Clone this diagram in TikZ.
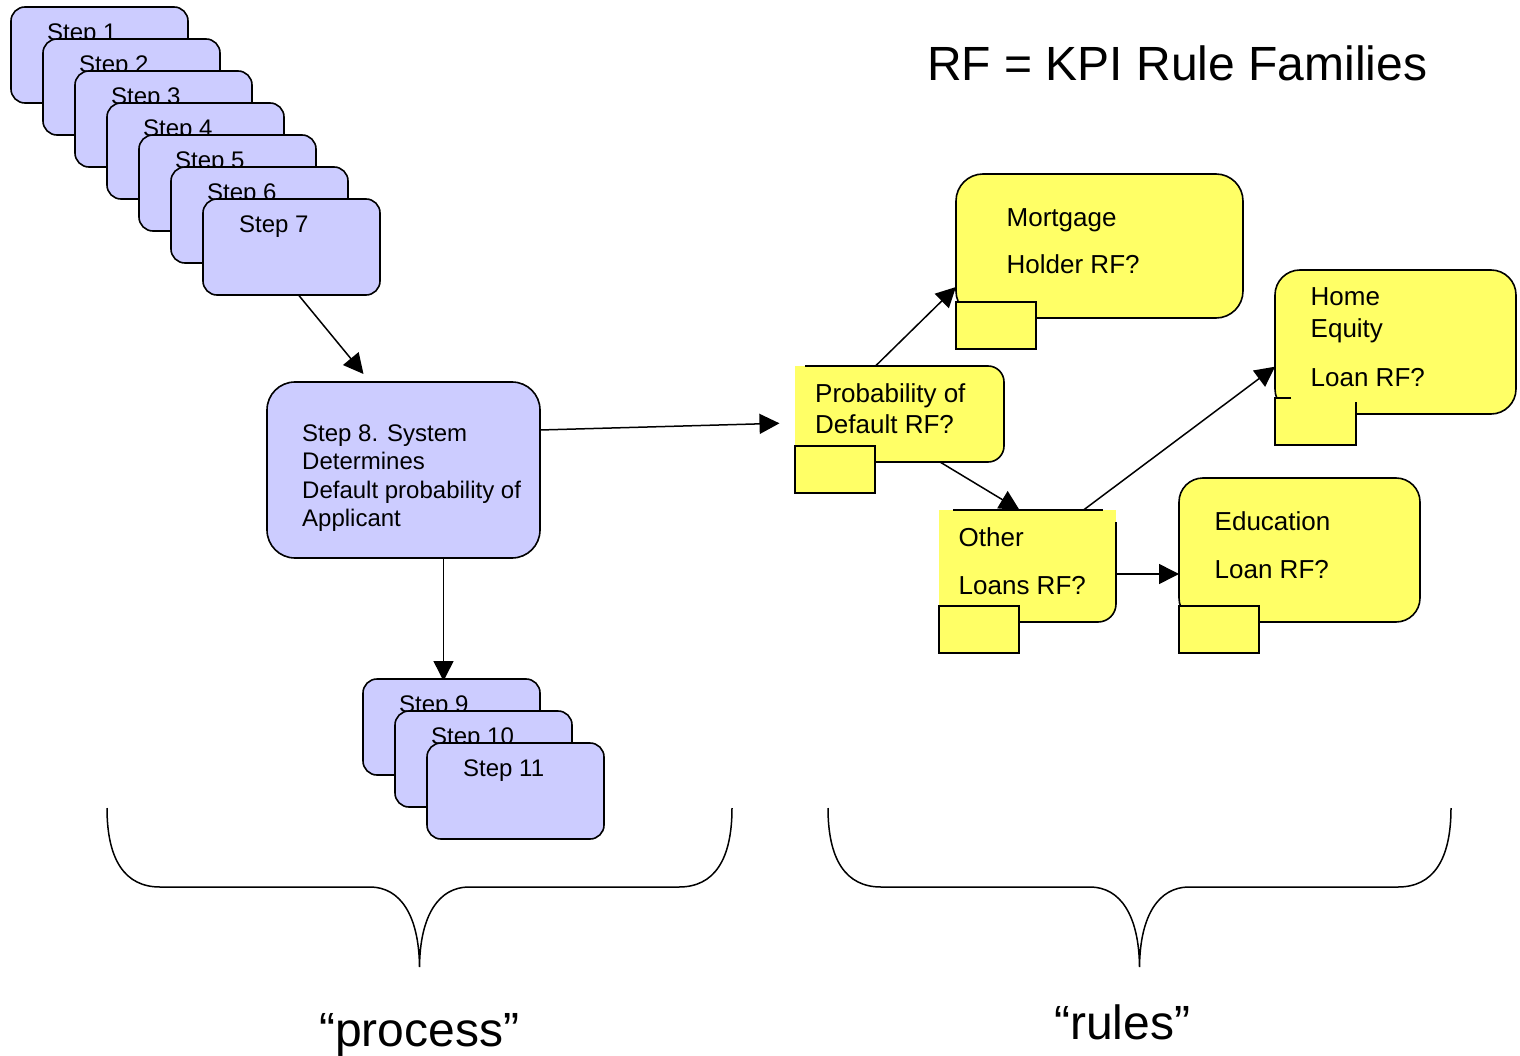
\documentclass[tikz,border=0pt]{standalone}
\usepackage{fontspec}
\setmainfont{Liberation Sans}
\usetikzlibrary{arrows.meta}
\pgfdeclarelayer{back}
\pgfsetlayers{back,main}
\definecolor{stepfill}{RGB}{204,204,255}
\definecolor{rffill}{RGB}{255,255,102}
\newcommand\stepfont{\fontsize{24pt}{29pt}\selectfont}
\newcommand\rffont{\fontsize{26pt}{31pt}\selectfont}
\newcommand\bigfont{\fontsize{48pt}{56pt}\selectfont}

\begin{document}
\begin{tikzpicture}[x=1pt,y=-1pt,
  edge/.style={draw=black,line width=1.6pt},
  stepbox/.style={edge,fill=stepfill,rounded corners=14pt,minimum width=177pt,
    minimum height=96pt,inner sep=0pt,outer sep=0pt,anchor=north west},
  bigstep/.style={edge,fill=stepfill,rounded corners=28pt,minimum width=273pt,
    minimum height=176pt,inner sep=0pt,outer sep=0pt,anchor=north west},
  rfbox/.style={fill=rffill,inner sep=0pt,outer sep=0pt,anchor=north west},
  rfdrawn/.style={rfbox,edge},
  notebox/.style={edge,fill=rffill,minimum width=80pt,minimum height=47pt,
    inner sep=0pt,outer sep=0pt,anchor=north west},
  notefill/.style={fill=rffill,minimum width=81pt,minimum height=47pt,
    inner sep=0pt,outer sep=0pt,anchor=north west},
  steplabel/.style={anchor=base west,inner sep=0pt,font=\stepfont},
  rflabel/.style={anchor=base west,inner sep=0pt,font=\rffont},
  biglabel/.style={anchor=base west,inner sep=0pt,font=\bigfont},
  arr/.style={line width=1.5pt,-{Triangle[length=20pt,width=20pt]}},
  brace/.style={line width=1.5pt}]

\useasboundingbox (0,0) rectangle (1520,1056);

% ---------- process side: stacked steps ----------
\foreach \i in {1,...,7} {
  \node[stepbox] (s\i) at ({11+32*(\i-1)},{7+32*(\i-1)}) {};
  \node[steplabel] (s\i-t) at ({47+32*(\i-1)},{40.5+32*(\i-1)}) {Step \i};
}

\node[bigstep] (s8) at (267,382) {};
\node[steplabel] (s8-a) at (302,441) {Step 8. System};
\node[steplabel] (s8-b) at (302,469.5) {Determines};
\node[steplabel] (s8-c) at (302,498) {Default probability of};
\node[steplabel] (s8-d) at (302,526.5) {Applicant};

\foreach \i in {9,10,11} {
  \node[stepbox] (s\i) at ({363+32*(\i-9)},{679+32*(\i-9)}) {};
  \node[steplabel] (s\i-t) at ({399+32*(\i-9)},{712.5+32*(\i-9)}) {Step \i};
}

% ---------- rule families ----------
\node[biglabel] (title) at (927,81) {RF = KPI Rule Families};

% Probability of Default
\node[rfbox,rounded corners=16pt,minimum width=209pt,minimum height=96pt] (pd) at (795,366) {};
\fill[rffill] (pd.north west) rectangle ([xshift=40pt]pd.south west);
\draw[edge,rounded corners=16pt] ([xshift=10pt]pd.north west) -- (pd.north east)
  -- (pd.south east) -- ([xshift=81pt]pd.south west);
\node[notebox] (pd-n) at (795,446) {};
\node[rflabel] (pd-a) at (815,402.3) {Probability of};
\node[rflabel] (pd-b) at (815,433.3) {Default RF?};

% Mortgage Holder
\node[rfdrawn,rounded corners=27pt,minimum width=287pt,minimum height=144pt] (mg) at (956,174) {};
\node[notebox] (mg-n) at (956,302) {};
\node[rflabel] (mg-a) at (1006.5,226.7) {Mortgage};
\node[rflabel] (mg-b) at (1006.5,273.3) {Holder RF?};

% Home Equity Loan
\node[rfdrawn,rounded corners=25pt,minimum width=241pt,minimum height=144pt] (he) at (1275,270) {};
\node[notefill] (he-n) at (1275,398) {};
\draw[edge] ([xshift=16pt]he-n.north west) -- (he-n.north west) -- (he-n.south west)
  -- (he-n.south east) -- ([yshift=-4pt]he-n.north east);
\node[rflabel] (he-a) at (1310.5,305.7) {Home};
\node[rflabel] (he-b) at (1310.5,337.7) {Equity};
\node[rflabel] (he-c) at (1310.5,386) {Loan RF?};

% Other Loans
\node[rfbox,rounded corners=18pt,minimum width=177pt,minimum height=112pt] (ol) at (939,510) {};
\fill[rffill] (ol.north west) rectangle ([yshift=-40pt]ol.north east);
\draw[edge] ([xshift=14pt]ol.north west) -- ([xshift=-13pt]ol.north east);
\draw[edge,rounded corners=18pt] ([yshift=-12pt]ol.north east) -- (ol.south east)
  -- ([xshift=81pt]ol.south west);
\node[notebox] (ol-n) at (939,606) {};
\node[rflabel] (ol-a) at (958.5,546) {Other};
\node[rflabel] (ol-b) at (958.5,594) {Loans RF?};

% Education Loan
\node[rfdrawn,rounded corners=24pt,minimum width=241pt,minimum height=144pt] (ed) at (1179,478) {};
\node[notebox] (ed-n) at (1179,606) {};
\node[rflabel] (ed-a) at (1214.5,530) {Education};
\node[rflabel] (ed-b) at (1214.5,578.3) {Loan RF?};

% ---------- connectors ----------
\coordinate (c78) at (363.5,374);
\coordinate (c8p) at (779.5,423.3);
\coordinate (c89) at (443.5,681);
\draw[arr] ([xshift=7pt]s7.south) -- (c78);
\draw[arr] ([yshift=40pt]s8.east) -- (c8p);
\begin{pgfonlayer}{back}
  \draw[arr] ([xshift=40pt]s8.south) -- (c89);
  \draw[arr] ([xshift=40.5pt]pd.south) -- ([xshift=-8pt]ol.north);
\end{pgfonlayer}
\draw[arr] ([xshift=-24pt]pd.north) -- ([yshift=-41pt]mg.west);
\draw[arr] ([xshift=56pt]ol.north) -- ([yshift=-24.7pt]he.west);
\draw[arr] ([yshift=-8pt]ol.east) -- ([yshift=-24pt]ed.west);

% ---------- braces and captions ----------
\draw[brace] (107,808) .. controls (107,860) and (125,887) .. (160,887) -- (370,887)
  .. controls (400,887) and (419,915) .. (419.5,967)
  .. controls (420,915) and (439,887) .. (469,887) -- (679,887)
  .. controls (714,887) and (732,860) .. (732,808);
\draw[brace] (828,808) .. controls (828,860) and (846,887) .. (881,887) -- (1090,887)
  .. controls (1120,887) and (1139,915) .. (1139.5,967)
  .. controls (1140,915) and (1159,887) .. (1189,887) -- (1398,887)
  .. controls (1433,887) and (1451,860) .. (1451,808);

\node[biglabel] (cap-p) at (319,1046) {“process”};
\node[biglabel] (cap-r) at (1054,1039) {“rules”};
\end{tikzpicture}
\end{document}
